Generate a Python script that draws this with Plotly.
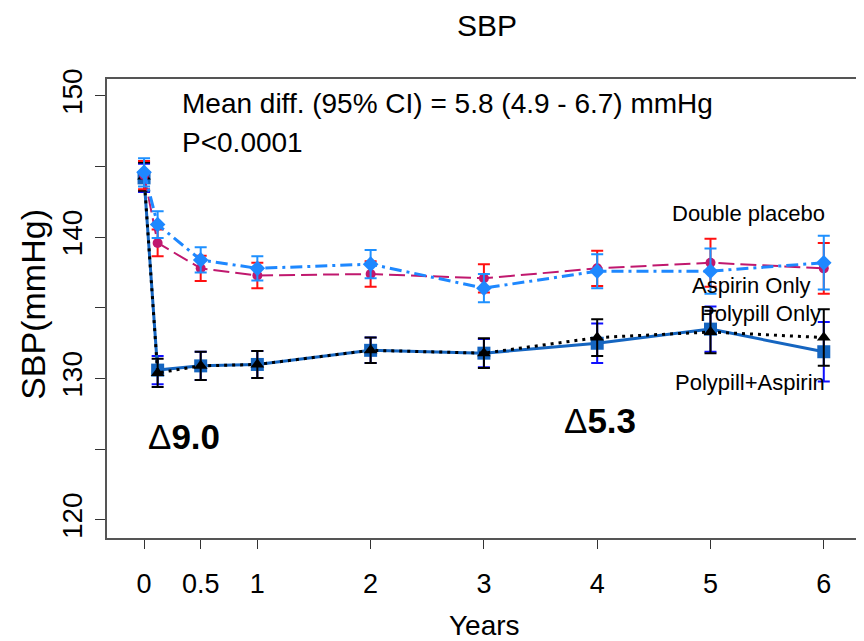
import plotly.graph_objects as go

# Data
years = [0, 0.12, 0.5, 1, 2, 3, 4, 5, 6]
x_tick_vals = [0, 0.5, 1, 2, 3, 4, 5, 6]
x_tick_text = ["0", "0.5", "1", "2", "3", "4", "5", "6"]
y_tick_vals = [120, 125, 130, 135, 140, 145, 150]
y_tick_text = ["120", "", "130", "", "140", "", "150"]

placebo = [144.4, 139.6, 137.8, 137.3, 137.4, 137.1, 137.8, 138.2, 137.8]
placebo_err = [1.0, 0.95, 0.9, 0.9, 0.9, 1.0, 1.25, 1.7, 1.8]
aspirin = [144.6, 140.9, 138.4, 137.8, 138.1, 136.4, 137.6, 137.6, 138.2]
aspirin_err = [1.0, 0.95, 0.9, 0.85, 1.0, 1.0, 1.2, 1.6, 1.9]
polypill = [144.3, 130.4, 130.9, 131.0, 132.0, 131.8, 132.9, 133.3, 132.9]
polypill_err = [1.0, 1.0, 1.0, 0.95, 0.9, 1.05, 1.3, 1.5, 2.0]
combo = [144.2, 130.6, 130.9, 131.0, 132.0, 131.8, 132.5, 133.5, 131.9]
combo_err = [1.0, 1.0, 1.0, 0.95, 0.9, 1.0, 1.4, 1.6, 2.1]

FONT = "Liberation Sans, Arial, sans-serif"
W, H = 856, 633  # page body has an 8px margin

fig = go.Figure()

fig.add_trace(go.Scatter(
    x=years, y=combo, mode="lines+markers", name="Polypill+Aspirin",
    line=dict(color="#1565C0", width=3, dash="solid"),
    marker=dict(symbol="square", size=13, color="#1565C0"),
    error_y=dict(type="data", array=combo_err, color="#1010ff", thickness=2, width=6),
))
fig.add_trace(go.Scatter(
    x=years, y=polypill, mode="lines+markers", name="Polypill Only",
    line=dict(color="black", width=3, dash="3px,5px"),
    marker=dict(symbol="triangle-up", size=12, color="black"),
    error_y=dict(type="data", array=polypill_err, color="black", thickness=2, width=6),
))
fig.add_trace(go.Scatter(
    x=years, y=placebo, mode="lines+markers", name="Double placebo",
    line=dict(color="#C0186E", width=2, dash="16px,6px"),
    marker=dict(symbol="circle", size=10, color="#C0186E"),
    error_y=dict(type="data", array=placebo_err, color="#ff1010", thickness=2, width=6),
))
fig.add_trace(go.Scatter(
    x=years, y=aspirin, mode="lines+markers", name="Aspirin Only",
    line=dict(color="#1E88FF", width=3, dash="12px,5px,3px,5px"),
    marker=dict(symbol="diamond", size=12, color="#1E88FF"),
    error_y=dict(type="data", array=aspirin_err, color="#1E90FF", thickness=2, width=6),
))

annotations = [
    dict(x=0.318, y=149.5, text="Mean diff. (95% CI) = 5.8 (4.9 - 6.7) mmHg",
         xanchor="left", yanchor="middle", font=dict(size=28)),
    dict(x=0.318, y=146.7, text="P<0.0001", xanchor="left", yanchor="middle",
         font=dict(size=28)),
    dict(x=0.353, y=125.9, text="Δ<b>9.0</b>", xanchor="center", yanchor="middle",
         font=dict(size=35)),
    dict(x=4.025, y=127.0, text="Δ<b>5.3</b>", xanchor="center", yanchor="middle",
         font=dict(size=35)),
    dict(x=6.028, y=141.65, text="Double placebo", xanchor="right", yanchor="middle",
         font=dict(size=22)),
    dict(x=5.905, y=136.6, text="Aspirin Only", xanchor="right", yanchor="middle",
         font=dict(size=22)),
    dict(x=5.993, y=134.64, text="Polypill Only", xanchor="right", yanchor="middle",
         font=dict(size=22)),
    dict(x=6.028, y=129.69, text="Polypill+Aspirin", xanchor="right", yanchor="middle",
         font=dict(size=22)),
    dict(xref="paper", yref="paper", x=0, y=0.508, xshift=-74, text="SBP(mmHg)",
         textangle=-90, xanchor="center", yanchor="middle", showarrow=False,
         font=dict(size=34)),
    dict(xref="paper", yref="paper", x=0.4993, y=0, yshift=-87, text="Years",
         xanchor="center", yanchor="middle", showarrow=False, font=dict(size=28)),
]
for a in annotations:
    a.setdefault("showarrow", False)
    a.setdefault("xref", "x")
    a.setdefault("yref", "y")

fig.update_layout(
    width=W, height=H,
    margin=dict(l=99, r=0, t=71, b=103, autoexpand=False),
    paper_bgcolor="white", plot_bgcolor="white",
    showlegend=False,
    font=dict(family=FONT, color="black"),
    title=dict(text="SBP", x=479 / W, xref="container", xanchor="center",
               y=1 - 17 / H, yref="container", yanchor="middle",
               font=dict(size=30, color="black")),
    annotations=annotations,
    xaxis=dict(range=[-0.327, 6.355], tickvals=x_tick_vals, ticktext=x_tick_text,
               showgrid=False, zeroline=False, showline=True, linecolor="#555",
               linewidth=1.5, mirror=True, ticks="outside", ticklen=9,
               tickcolor="#333", tickfont=dict(size=27), ticklabelstandoff=12,
               automargin=False),
    yaxis=dict(range=[118.72, 151.2], tickvals=y_tick_vals, ticktext=y_tick_text,
               showgrid=False, zeroline=False, showline=True, linecolor="#555",
               linewidth=1.5, ticks="outside", ticklen=10, tickcolor="#333",
               tickangle=-90, tickfont=dict(size=28), ticklabelstandoff=2,
               automargin=False),
)

fig.write_html("out.html")
